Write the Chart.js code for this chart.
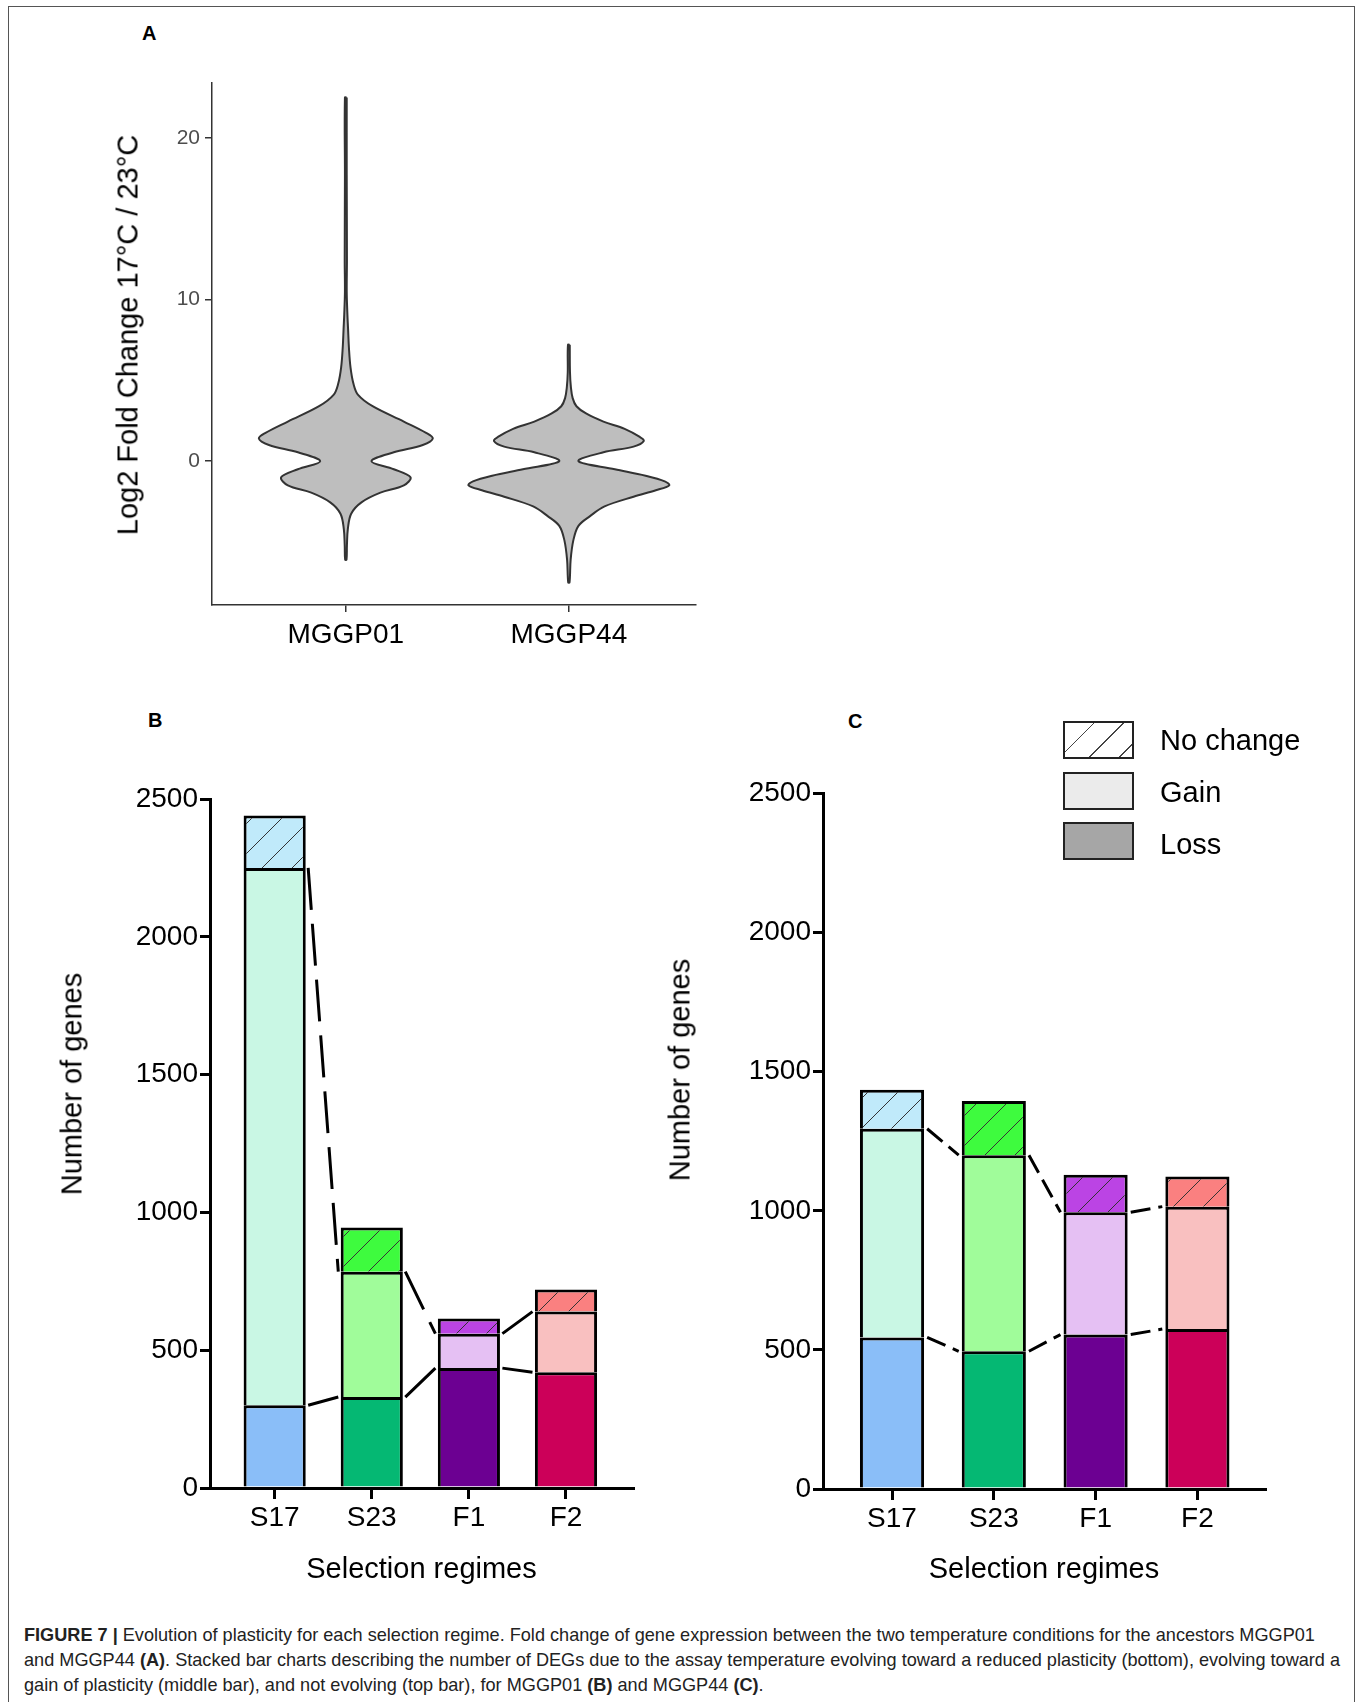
<!DOCTYPE html>
<html lang="en">
<head>
<meta charset="UTF-8">
<title>Figure 7</title>
<script src="https://cdn.jsdelivr.net/npm/chart.js"></script>
<style>
  body { margin: 0; background: #fff; font-family: 'Liberation Sans', Arial, sans-serif; }
  #fig { position: relative; width: 1363px; height: 1702px; overflow: hidden; }
  #frame { position: absolute; left: 8px; top: 6px; width: 1347px; height: 1740px; border: 1.5px solid #555; box-sizing: border-box; }
  canvas { position: absolute; }
  .panel { position: absolute; font-weight: bold; font-size: 20px; line-height: 1; }
  .ytitle { position: absolute; font-size: 29px; white-space: nowrap; transform: translate(-50%, -50%) rotate(-90deg); }
  .lbox { position: absolute; left: 1063px; width: 71px; height: 38px; border: 2px solid #222; box-sizing: border-box; }
  .ltext { position: absolute; left: 1160px; font-size: 29px; line-height: 1; transform: translateY(-50%); }
  #caption { position: absolute; left: 24px; top: 1622px; font-size: 19px; line-height: 25px; color: #222; white-space: nowrap; transform-origin: 0 0; }
  #caption span { display: block; width: max-content; }
</style>
</head>
<body>
<div id="fig">
  <div id="frame"></div>
  <div class="panel" style="left:142px; top:23px;">A</div>
  <div class="panel" style="left:148px; top:710px;">B</div>
  <div class="panel" style="left:848px; top:711px;">C</div>

  <canvas id="chartA" width="720" height="680" style="left:0; top:0;"></canvas>
  <canvas id="chartB" width="680" height="930" style="left:0; top:680px;"></canvas>
  <canvas id="chartC" width="683" height="930" style="left:680px; top:680px;"></canvas>

  <div class="ytitle" style="left:128px; top:335px;">Log2 Fold Change 17°C / 23°C</div>
  <div class="ytitle" style="left:72px; top:1084px;">Number of genes</div>
  <div class="ytitle" style="left:680px; top:1070px;">Number of genes</div>

  <div class="lbox" style="top:721px; background: repeating-linear-gradient(135deg, #fff 0 20px, #444 20px 21px);"></div>
  <div class="lbox" style="top:772px; background:#ebebeb;"></div>
  <div class="lbox" style="top:822px; background:#a6a6a6;"></div>
  <div class="ltext" style="top:740px;">No change</div>
  <div class="ltext" style="top:792px;">Gain</div>
  <div class="ltext" style="top:844px;">Loss</div>

  <div id="caption">
    <span id="capLine1"><b>FIGURE 7 |</b> Evolution of plasticity for each selection regime. Fold change of gene expression between the two temperature conditions for the ancestors MGGP01</span>
    <span>and MGGP44 <b>(A)</b>. Stacked bar charts describing the number of DEGs due to the assay temperature evolving toward a reduced plasticity (bottom), evolving toward a</span>
    <span>gain of plasticity (middle bar), and not evolving (top bar), for MGGP01 <b>(B)</b> and MGGP44 <b>(C)</b>.</span>
  </div>
</div>

<script>
  // Panel A: violin outlines (log2 fold change level, half width in category units)
  const violinCats = ['MGGP01', 'MGGP44'];
  const v1Y = [22.5, 17.7, 12.4, 10.5, 9.1, 8.2, 7.0, 5.8, 4.8, 4.1, 3.4, 2.45, 1.75, 1.4, 1.0, 0.55, 0, -0.5, -1.0, -1.5, -1.95, -2.55, -3.25, -4.2, -5.2, -6.1];
  const v1W = [0.004, 0.004, 0.005, 0.004, 0.007, 0.010, 0.014, 0.021, 0.034, 0.055, 0.12, 0.26, 0.36, 0.39, 0.345, 0.215, 0.115, 0.215, 0.29, 0.26, 0.155, 0.07, 0.024, 0.009, 0.005, 0.003];
  const v2Y = [7.2, 5.5, 4.6, 3.9, 3.4, 2.95, 2.45, 2.0, 1.5, 1.25, 0.9, 0.55, 0, -0.5, -0.9, -1.25, -1.5, -1.8, -2.2, -2.8, -3.4, -4.0, -4.9, -6.1, -7.5];
  const v2W = [0.004, 0.005, 0.009, 0.017, 0.034, 0.077, 0.155, 0.25, 0.318, 0.336, 0.29, 0.155, 0.043, 0.206, 0.344, 0.43, 0.45, 0.39, 0.29, 0.16, 0.095, 0.043, 0.02, 0.008, 0.003];
  const aTicks = [0, 10, 20];

  // Panels B and C: stacked bars
  const regimes = ['S17', 'S23', 'F1', 'F2'];
  const lossB = [300, 330, 435, 420];
  const gainB = [1950, 455, 125, 220];
  const noChangeB = [190, 160, 55, 80];
  const lossC = [545, 495, 555, 575];
  const gainC = [750, 705, 440, 440];
  const noChangeC = [140, 195, 135, 108];

  const lossColors = ['#8abef8', '#05b873', '#6c0092', '#cc0059'];
  const gainColors = ['#c9f7e4', '#a0fc9a', '#e5c0f3', '#f9c0c0'];
  const noChangeColors = ['#c0eafa', '#3efb3e', '#bb44e4', '#fa8080'];

  // caption set in a plain sans, squeezed to the width of the original line
  const cap = document.getElementById('caption');
  cap.style.transform = 'scaleX(' + (1291 / document.getElementById('capLine1').offsetWidth) + ')';

  function violinPoints(center, ys, ws) {
    const right = ys.map((y, i) => ({ x: center + ws[i], y: y }));
    const left = ys.map((y, i) => ({ x: center - ws[i], y: y })).reverse();
    const pts = right.concat(left);
    pts.push(pts[0]);
    return pts;
  }

  function hatch(color) {
    const c = document.createElement('canvas');
    c.width = 30; c.height = 30;
    const g = c.getContext('2d');
    g.fillStyle = color;
    g.fillRect(0, 0, 30, 30);
    g.strokeStyle = '#333';
    g.lineWidth = 1;
    g.beginPath();
    g.moveTo(-2, 32); g.lineTo(32, -2);
    g.stroke();
    return g.createPattern(c, 'repeat');
  }

  const font = "'Liberation Sans', Arial, sans-serif";

  new Chart(document.getElementById('chartA'), {
    type: 'line',
    data: {
      datasets: [
        { data: violinPoints(1, v1Y, v1W), borderColor: '#333', borderWidth: 2, backgroundColor: '#bebebe', fill: 'shape', tension: 0.35, pointRadius: 0 },
        { data: violinPoints(2, v2Y, v2W), borderColor: '#333', borderWidth: 2, backgroundColor: '#bebebe', fill: 'shape', tension: 0.35, pointRadius: 0 }
      ]
    },
    options: {
      responsive: false,
      animation: false,
      layout: { padding: { top: 83, right: 24, left: 0, bottom: 0 } },
      plugins: { legend: { display: false }, tooltip: { enabled: false } },
      scales: {
        x: {
          type: 'linear', min: 0.4, max: 2.57, offset: false,
          afterBuildTicks: s => { s.ticks = [1, 2].map(v => ({ value: v })); },
          afterFit: s => { s.height = 75; },
          grid: { drawOnChartArea: false, tickLength: 7, color: '#333', lineWidth: 1.5 },
          border: { color: '#333', width: 1.5 },
          ticks: { callback: (v, i) => violinCats[i], color: '#000', font: { family: font, size: 28 }, padding: 6, maxRotation: 0 }
        },
        y: {
          min: -8.9, max: 23.4,
          afterBuildTicks: s => { s.ticks = aTicks.map(v => ({ value: v })); },
          afterFit: s => { s.width = 212; },
          grid: { drawOnChartArea: false, tickLength: 7, color: '#333', lineWidth: 1.5 },
          border: { color: '#333', width: 1.5 },
          ticks: { color: '#4d4d4d', font: { family: font, size: 21 }, padding: 5 }
        }
      }
    }
  });

  function connector(tops, e) {
    const pts = [];
    for (let i = 0; i < tops.length - 1; i++) {
      pts.push({ x: i + e, y: tops[i] }, { x: i + 1 - e, y: tops[i + 1] }, { x: i + 1, y: null });
    }
    return pts;
  }

  function barChart(id, loss, gain, noChange, cfg) {
    const gainTop = loss.map((v, i) => v + gain[i]);
    const lineStyle = { type: 'line', yAxisID: 'yl', borderColor: '#000', borderWidth: 3, borderDash: cfg.dash, pointRadius: 0, fill: false, tension: 0, spanGaps: false };
    const barStyle = { borderColor: '#000', borderWidth: 3, barPercentage: cfg.bar, categoryPercentage: 1 };
    new Chart(document.getElementById(id), {
      type: 'bar',
      data: {
        datasets: [
          Object.assign({ label: 'Loss', data: loss.map((v, i) => ({ x: i, y: v })), backgroundColor: lossColors }, barStyle),
          Object.assign({ label: 'Gain', data: gain.map((v, i) => ({ x: i, y: v })), backgroundColor: gainColors }, barStyle),
          Object.assign({ label: 'No change', data: noChange.map((v, i) => ({ x: i, y: v })), backgroundColor: noChangeColors.map(hatch) }, barStyle),
          Object.assign({ data: connector(gainTop, 0.345) }, lineStyle),
          Object.assign({ data: connector(loss, 0.345) }, lineStyle)
        ]
      },
      options: {
        responsive: false,
        animation: false,
        layout: { padding: { top: cfg.top, right: cfg.right, left: 0, bottom: 0 } },
        plugins: { legend: { display: false }, tooltip: { enabled: false } },
        scales: {
          x: {
            type: 'linear', min: cfg.xMin, max: cfg.xMax, offset: false, stacked: true,
            afterBuildTicks: s => { s.ticks = regimes.map((r, i) => ({ value: i })); },
            afterFit: s => { s.height = cfg.xHeight; },
            grid: { drawOnChartArea: false, offset: false, tickLength: 11, color: '#000', lineWidth: 3 },
            border: { color: '#000', width: 3 },
            ticks: { callback: (v, i) => regimes[i], color: '#000', font: { family: font, size: 28 }, padding: 2, maxRotation: 0 },
            title: { display: true, text: 'Selection regimes', color: '#000', font: { family: font, size: 29 }, padding: { bottom: 23 } }
          },
          y: {
            min: 0, max: 2500, stacked: true,
            ticks: { stepSize: 500, callback: v => String(v), color: '#000', font: { family: font, size: 28 }, padding: 2 },
            afterFit: s => { s.width = cfg.yWidth; },
            grid: { drawOnChartArea: false, tickLength: 10, color: '#000', lineWidth: 3 },
            border: { color: '#000', width: 3 }
          },
          yl: { display: false, min: 0, max: 2500 }
        }
      }
    });
  }

  barChart('chartB', lossB, gainB, noChangeB, { xMin: -0.666, xMax: 3.69, bar: 0.64, top: 119, right: 47, yWidth: 210, xHeight: 122, dash: [42, 14] });
  barChart('chartC', lossC, gainC, noChangeC, { xMin: -0.678, xMax: 3.664, bar: 0.63, top: 113.5, right: 98, yWidth: 143, xHeight: 121, dash: [20, 8] });
</script>
</body>
</html>
